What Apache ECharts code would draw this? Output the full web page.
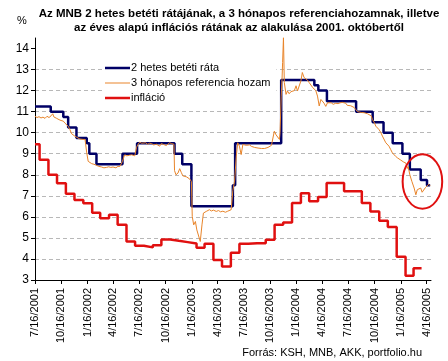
<!DOCTYPE html>
<html><head><meta charset="utf-8">
<script src="https://cdn.jsdelivr.net/npm/echarts@6/dist/echarts.min.js"></script>
<style>html,body{margin:0;padding:0;background:#fff}#c{width:448px;height:361px}</style>
</head><body><div id="c"></div>
<script>
const titleText = 'Az MNB 2 hetes betéti rátájának, a 3 hónapos referenciahozamnak, illetve\naz éves alapú inflációs rátának az alakulása 2001. októbertől';
const unitLabel = '%';
const sourceText = 'Forrás: KSH, MNB, AKK, portfolio.hu';
const seriesNames = ['2 hetes betéti ráta', '3 hónapos referencia hozam', 'infláció'];

const xTickDates = ['2001-07-16','2001-10-16','2002-01-16','2002-04-16','2002-07-16','2002-10-16','2003-01-16','2003-04-16','2003-07-16','2003-10-16','2004-01-16','2004-04-16','2004-07-16','2004-10-16','2005-01-16','2005-04-16'];
const yTicks = [3,4,5,6,7,8,9,10,11,12,13,14];
const xRange = ['2001-07-16', '2005-05-01'];
const yRange = [3, 14.5];

// 2 hetes betéti ráta (step changes)
const baseDates = ['2001-07-16','2001-09-09','2001-10-23','2001-11-09','2001-12-08','2002-01-13','2002-01-22','2002-02-16','2002-05-18','2002-07-08','2002-11-16','2002-12-13','2003-01-14','2003-06-08','2003-06-16','2003-11-24','2004-03-19','2004-04-02','2004-05-02','2004-08-12','2004-10-09','2004-11-16','2004-12-18','2005-01-21','2005-02-16','2005-03-26','2005-04-17','2005-04-28'];
const baseRates = [11.25,11.0,10.75,10.25,9.75,9.5,9.0,8.5,9.0,9.5,9.0,8.5,6.5,7.5,9.5,12.5,12.25,12.0,11.5,11.0,10.5,10.0,9.5,9.0,8.25,7.75,7.5,7.5];

// 3 hónapos referencia hozam
const refDates = ['2001-07-16','2001-07-23','2001-07-30','2001-08-06','2001-08-13','2001-08-20','2001-08-27','2001-09-03','2001-09-10','2001-09-16','2001-09-20','2001-09-30','2001-10-08','2001-10-15','2001-10-23','2001-10-29','2001-11-04','2001-11-09','2001-11-15','2001-11-21','2001-11-25','2001-12-02','2001-12-09','2001-12-14','2001-12-20','2001-12-26','2001-12-31','2002-01-07','2002-01-13','2002-01-18','2002-01-24','2002-01-30','2002-02-07','2002-02-16','2002-02-24','2002-03-06','2002-03-14','2002-03-23','2002-03-31','2002-04-07','2002-04-15','2002-04-25','2002-05-02','2002-05-09','2002-05-15','2002-05-18','2002-05-23','2002-05-26','2002-06-02','2002-06-12','2002-06-19','2002-06-30','2002-07-06','2002-07-11','2002-07-17','2002-07-24','2002-07-28','2002-08-07','2002-08-14','2002-08-21','2002-08-28','2002-09-04','2002-09-14','2002-09-18','2002-09-25','2002-09-30','2002-10-07','2002-10-12','2002-10-18','2002-10-23','2002-10-30','2002-11-06','2002-11-10','2002-11-14','2002-11-16','2002-11-21','2002-11-28','2002-12-04','2002-12-10','2002-12-15','2002-12-21','2002-12-28','2003-01-02','2003-01-08','2003-01-14','2003-01-17','2003-01-22','2003-01-28','2003-02-02','2003-02-08','2003-02-14','2003-02-20','2003-02-25','2003-03-03','2003-03-07','2003-03-13','2003-03-18','2003-03-25','2003-04-01','2003-04-11','2003-04-19','2003-04-26','2003-05-04','2003-05-13','2003-05-21','2003-05-27','2003-06-02','2003-06-08','2003-06-14','2003-06-20','2003-06-25','2003-07-01','2003-07-07','2003-07-13','2003-07-19','2003-07-25','2003-07-31','2003-08-05','2003-08-12','2003-08-17','2003-08-23','2003-08-29','2003-09-04','2003-09-09','2003-09-16','2003-09-21','2003-09-27','2003-10-02','2003-10-09','2003-10-14','2003-10-21','2003-10-26','2003-10-31','2003-11-06','2003-11-12','2003-11-18','2003-11-20','2003-11-24','2003-11-27','2003-11-29','2003-12-02','2003-12-05','2003-12-11','2003-12-16','2003-12-22','2003-12-28','2004-01-03','2004-01-09','2004-01-15','2004-01-20','2004-01-26','2004-02-01','2004-02-06','2004-02-12','2004-02-18','2004-02-24','2004-03-01','2004-03-07','2004-03-13','2004-03-19','2004-03-24','2004-03-30','2004-04-05','2004-04-11','2004-04-17','2004-04-22','2004-04-28','2004-05-04','2004-05-10','2004-05-17','2004-05-24','2004-06-02','2004-06-10','2004-06-17','2004-06-25','2004-07-01','2004-07-07','2004-07-12','2004-07-18','2004-07-24','2004-07-30','2004-08-05','2004-08-11','2004-08-17','2004-08-23','2004-08-30','2004-09-03','2004-09-09','2004-09-15','2004-09-21','2004-09-27','2004-10-04','2004-10-08','2004-10-14','2004-10-20','2004-10-26','2004-10-31','2004-11-06','2004-11-12','2004-11-18','2004-11-24','2004-11-29','2004-12-05','2004-12-11','2004-12-17','2004-12-22','2004-12-28','2005-01-04','2005-01-09','2005-01-15','2005-01-21','2005-01-26','2005-02-02','2005-02-07','2005-02-10','2005-02-16','2005-02-23','2005-03-03','2005-03-09','2005-03-14','2005-03-20','2005-03-26','2005-03-31','2005-04-06','2005-04-12','2005-04-17','2005-04-23','2005-04-28'];
const refYields = [10.78,10.72,10.76,10.70,10.74,10.68,10.78,10.72,10.80,10.90,10.75,10.68,10.62,10.58,10.55,10.45,10.40,10.31,10.15,9.95,9.90,9.84,9.78,9.72,9.70,9.75,9.68,9.68,9.04,8.64,8.60,8.53,8.50,8.45,8.40,8.37,8.33,8.35,8.38,8.35,8.37,8.33,8.40,8.40,8.48,8.64,8.85,8.95,8.90,8.93,8.95,8.90,9.30,9.44,9.55,9.50,9.46,9.52,9.45,9.50,9.48,9.42,9.45,9.40,9.36,9.48,9.45,9.50,9.39,9.45,9.52,9.48,9.50,9.45,8.20,8.00,8.08,8.29,8.10,7.95,7.97,7.90,7.92,7.80,7.69,6.02,5.62,5.78,5.38,5.46,4.83,5.62,6.18,6.10,6.26,6.20,6.34,6.28,6.32,6.26,6.30,6.24,6.27,6.22,6.27,6.26,6.34,7.25,7.70,8.88,9.52,9.36,8.96,9.44,9.38,9.40,9.33,9.42,9.35,9.36,9.30,9.32,9.27,9.22,9.25,9.20,9.25,9.27,9.30,9.36,9.40,9.44,10.07,9.90,9.84,9.68,10.00,11.74,12.54,13.33,14.52,12.38,11.82,11.98,11.85,11.95,11.90,12.00,12.23,11.98,12.05,12.46,12.86,12.62,12.60,12.50,12.38,12.30,12.15,12.10,12.00,11.74,11.27,11.58,11.55,11.40,11.25,11.42,11.38,11.42,11.35,11.40,11.38,11.42,11.44,11.35,11.40,11.30,11.35,11.28,11.32,11.20,11.10,11.00,11.03,10.96,11.00,10.95,10.98,10.90,10.92,10.80,10.63,10.50,10.31,10.25,10.15,10.02,9.84,9.75,9.52,9.45,9.36,9.20,9.04,8.96,8.88,8.80,8.75,8.70,8.64,8.60,8.56,8.30,8.40,8.00,7.69,7.37,7.05,7.29,7.30,7.37,7.17,7.21,7.40,7.42,7.55,7.48];

// infláció (monthly, year-on-year)
const inflDates = ['2001-07-16','2001-08-01','2001-09-01','2001-10-01','2001-11-01','2001-12-01','2002-01-01','2002-02-01','2002-03-01','2002-04-01','2002-05-01','2002-06-01','2002-07-01','2002-08-01','2002-09-01','2002-10-01','2002-11-01','2002-12-01','2003-01-01','2003-02-01','2003-03-01','2003-04-01','2003-05-01','2003-06-01','2003-07-01','2003-08-01','2003-09-01','2003-10-01','2003-11-01','2003-12-01','2004-01-01','2004-02-01','2004-03-01','2004-04-01','2004-05-01','2004-06-01','2004-07-01','2004-08-01','2004-09-01','2004-10-01','2004-11-01','2004-12-01','2005-01-01','2005-02-01','2005-03-01','2005-03-29'];
const inflRates = [9.45,8.72,8.0,7.6,7.1,6.8,6.65,6.2,5.94,6.1,5.62,4.83,4.63,4.55,4.65,4.92,4.86,4.8,4.73,4.53,4.72,3.95,3.64,4.3,4.72,4.75,4.75,4.91,5.62,5.73,6.66,7.12,6.74,6.94,7.61,7.61,7.22,7.22,6.66,6.26,5.82,5.52,4.11,3.2,3.56,3.56];

// highlighted region (red ellipse), in data terms
const highlight = { date: '2005-04-01', value: 7.68 };

function ts(s){ const p = s.split('-').map(Number); return Date.UTC(p[0], p[1]-1, p[2]); }
function fmt(v){ const d = new Date(v); return (d.getUTCMonth()+1)+'/'+d.getUTCDate()+'/'+d.getUTCFullYear(); }
function zip(ds, vs){ return ds.map((d,i)=>[ts(d), vs[i]]); }

const FONT = '"Liberation Sans", Arial, sans-serif';
const cBlue = '#000066', cOrange = '#e8842a', cRed = '#e01010';
const thickIcon = 'path://M0,0H25V2.5H0Z';
const thinIcon = 'path://M0,0H25V1H0Z';

const chart = echarts.init(document.getElementById('c'), null, {renderer:'canvas'});
chart.setOption({
  animation: false,
  backgroundColor: '#fff',
  textStyle: { fontFamily: FONT },
  title: [
    { text: titleText, left: 234, textAlign: 'center', top: 2,
      textStyle: { fontFamily: FONT, fontSize: 11.5, fontWeight: 'bold', color: '#000', lineHeight: 14 } },
    { text: unitLabel, left: 12, top: 10, textStyle: { fontFamily: FONT, fontSize: 11, fontWeight: 'normal', color: '#000' } },
    { text: sourceText, right: 21, top: 342, textStyle: { fontFamily: FONT, fontSize: 11, fontWeight: 'normal', color: '#000' } }
  ],
  legend: {
    orient: 'vertical', left: 102, top: 59,
    data: [
      { name: seriesNames[0], icon: thickIcon },
      { name: seriesNames[1], icon: thinIcon },
      { name: seriesNames[2], icon: thickIcon }
    ],
    itemWidth: 25, itemHeight: 12, itemGap: 3,
    backgroundColor: '#fff', padding: [3, 6, 3, 3],
    textStyle: { fontFamily: FONT, fontSize: 11, color: '#000', padding: [0,0,0,-4], lineHeight: 12 }
  },
  grid: { left: 35, right: 17, top: 38, bottom: 81 },
  xAxis: {
    type: 'value', min: ts(xRange[0]), max: ts(xRange[1]),
    axisLine: { show: true, lineStyle: { color: '#000', width: 1 } },
    axisTick: { show: true, length: 4, inside: false, customValues: xTickDates.map(ts), lineStyle: { color: '#000' } },
    axisLabel: { customValues: xTickDates.map(ts), rotate: 90, margin: 8, formatter: fmt,
      fontFamily: FONT, fontSize: 11, color: '#000' },
    splitLine: { show: false }
  },
  yAxis: {
    type: 'value', min: yRange[0], max: yRange[1],
    axisLine: { show: true, lineStyle: { color: '#000', width: 1 } },
    axisTick: { show: true, length: 4, customValues: yTicks, lineStyle: { color: '#000' } },
    axisLabel: { customValues: yTicks, margin: 6, fontFamily: FONT, fontSize: 12, color: '#000' },
    splitLine: { show: true, showMinLine: false, showMaxLine: false, lineStyle: { color: '#b8b8b8', type: [4,3], width: 1 } }
  },
  series: [
    { name: seriesNames[0], type: 'line', step: 'end', data: zip(baseDates, baseRates), showSymbol: false, symbol: 'none',
      lineStyle: { color: cBlue, width: 2.5 }, itemStyle: { color: cBlue }, z: 2 },
    { name: seriesNames[1], type: 'line', data: zip(refDates, refYields), showSymbol: false, symbol: 'none',
      lineStyle: { color: cOrange, width: 1 }, itemStyle: { color: cOrange }, z: 3 },
    { name: seriesNames[2], type: 'line', step: 'end', data: zip(inflDates, inflRates), showSymbol: false, symbol: 'none',
      lineStyle: { color: cRed, width: 2.5 }, itemStyle: { color: cRed }, z: 4 }
  ]
});

const c = chart.convertToPixel({gridIndex: 0}, [ts(highlight.date), highlight.value]);
chart.setOption({
  graphic: [{ type: 'ellipse', shape: { cx: c[0], cy: c[1], rx: 19.8, ry: 27.2 },
    style: { fill: 'none', stroke: cRed, lineWidth: 2 }, z: 100 }]
});
</script></body></html>
